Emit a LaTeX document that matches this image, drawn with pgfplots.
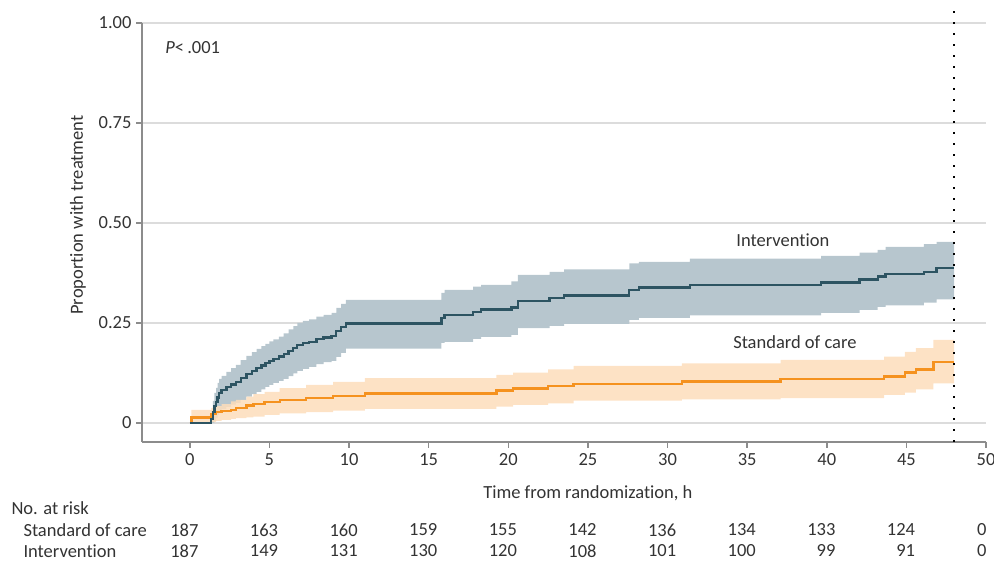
\documentclass[border=0pt]{standalone}
\usepackage{pgfplots}
\pgfplotsset{compat=1.18}
\usepackage{pgfplotstable}
\usepgfplotslibrary{fillbetween}
\usepackage{fontspec}
\setmainfont{Carlito}[Ligatures=NoCommon]

\definecolor{intline}{HTML}{2D5462}
\definecolor{intband}{HTML}{B7C6CE}
\definecolor{socline}{HTML}{F5921F}
\definecolor{socband}{HTML}{FDDDBB}
\definecolor{txt}{HTML}{333333}
\definecolor{gridc}{HTML}{DCDCDC}
\definecolor{axisc}{HTML}{8C8C8C}

\newcommand{\fs}{\fontsize{18.5}{22}\selectfont}

% time (h), cumulative proportion, lower and upper 95% limits
\pgfplotstableread{
t     y      lo     hi
0     0      0      0
1.35  0.010  0.000  0.030
1.45  0.027  0.000  0.055
1.55  0.043  0.005  0.075
1.65  0.053  0.012  0.088
1.75  0.064  0.020  0.100
1.85  0.075  0.028  0.110
2.0   0.083  0.035  0.118
2.3   0.090  0.040  0.128
2.6   0.096  0.046  0.137
2.9   0.102  0.050  0.145
3.2   0.112  0.058  0.157
3.55  0.123  0.066  0.168
3.9   0.130  0.072  0.177
4.2   0.137  0.078  0.185
4.5   0.144  0.084  0.192
4.75  0.150  0.090  0.198
5.0   0.155  0.095  0.204
5.25  0.160  0.100  0.209
5.6   0.166  0.105  0.216
5.9   0.172  0.110  0.224
6.2   0.180  0.117  0.234
6.5   0.188  0.124  0.242
6.75  0.195  0.130  0.250
7.1   0.200  0.135  0.255
7.5   0.203  0.140  0.259
7.95  0.210  0.147  0.266
8.4   0.214  0.152  0.270
8.9   0.218  0.155  0.275
9.2   0.230  0.165  0.288
9.5   0.240  0.175  0.298
9.8   0.249  0.186  0.3075
15.8  0.262  0.200  0.325
16.0  0.270  0.203  0.333
17.8  0.278  0.210  0.341
18.3  0.284  0.215  0.345
20.2  0.289  0.220  0.354
20.6  0.305  0.237  0.370
22.6  0.312  0.243  0.378
23.5  0.319  0.248  0.384
27.6  0.332  0.258  0.399
28.2  0.339  0.263  0.403
31.4  0.345  0.269  0.411
39.65 0.351  0.275  0.418
42.06 0.359  0.283  0.426
43.2  0.366  0.290  0.433
43.7  0.372  0.294  0.440
46.1  0.378  0.301  0.447
46.9  0.387  0.309  0.453
48    0.387  0.309  0.453
}\intervention

\pgfplotstableread{
t     y      lo     hi
0     0      0      0
0.1   0.014  0.000  0.033
1.35  0.022  0.002  0.038
1.65  0.027  0.005  0.042
2.0   0.030  0.008  0.047
2.6   0.033  0.010  0.054
2.9   0.037  0.012  0.058
3.56  0.044  0.014  0.066
4.0   0.048  0.016  0.072
4.7   0.053  0.020  0.078
5.65  0.058  0.024  0.087
7.3   0.063  0.027  0.095
9.0   0.068  0.031  0.103
11.0  0.074  0.035  0.112
19.25 0.081  0.041  0.120
20.3  0.086  0.045  0.126
22.5  0.092  0.049  0.134
24.1  0.098  0.056  0.1425
30.9  0.104  0.059  0.149
37.1  0.110  0.062  0.1575
43.6  0.116  0.070  0.166
44.9  0.126  0.076  0.178
45.6  0.134  0.084  0.187
46.7  0.153  0.099  0.2075
48    0.153  0.099  0.2075
}\standardcare

\begin{document}
\begin{tikzpicture}[font=\fs, x=1pt, y=1pt]
\begin{axis}[
  at={(142pt,120pt)}, anchor=south west,
  scale only axis, width=844pt, height=419pt,
  xmin=-3, xmax=50, ymin=-0.0475, ymax=1,
  axis lines*=left,
  axis line style={axisc, line width=1.5pt},
  tick style={axisc, line width=1.5pt},
  tick align=outside, major tick length=6pt,
  xtick={0,5,...,50}, ytick={0,0.25,0.5,0.75,1},
  yticklabels={0,0.25,0.50,0.75,1.00},
  /pgf/number format/assume math mode=true,
  tick label style={font=\fs, text=txt},
  xticklabel style={yshift=-2pt},
  yticklabel style={xshift=-1pt},
  ymajorgrids, grid style={gridc, line width=2.5pt},
  clip=false,
  font=\fs,
]
  % confidence bands
  \addplot[name path=iu, const plot, draw=none, forget plot] table[x=t, y=hi] {\intervention};
  \addplot[name path=il, const plot, draw=none, forget plot] table[x=t, y=lo] {\intervention};
  \addplot[intband, forget plot] fill between[of=iu and il];
  \addplot[name path=su, const plot, draw=none, forget plot] table[x=t, y=hi] {\standardcare};
  \addplot[name path=sl, const plot, draw=none, forget plot] table[x=t, y=lo] {\standardcare};
  \addplot[socband, fill opacity=0.85, forget plot] fill between[of=su and sl];

  % cumulative curves
  \addplot[const plot, socline, line width=2.4pt] table[x=t, y=y] {\standardcare};
  \addplot[const plot, intline, line width=2.4pt] table[x=t, y=y] {\intervention};

  % end of follow-up at 48 h
  \addplot[black, line width=1.8pt, dash pattern=on 1.8pt off 9.2pt] coordinates {(48,-0.0475) (48,1.045)};

  % annotations
  \node[anchor=west, text=txt] at (axis cs:-1.75,0.9375) {\textit{P}<\,.001};
  \node[text=txt] at (axis cs:37.24,0.4575) {Intervention};
  \node[text=txt] at (axis cs:38.0,0.203) {Standard of care};
  \node[text=txt] at (axis cs:25,-0.175) {Time from randomization, h};
  \node[text=txt, rotate=90] at (axis cs:-7.03,0.52) {Proportion with treatment};
\end{axis}

% number at risk (x = 190 + 15.925 t, in pt)
\node[anchor=west, text=txt] at (8,54) {No. at risk};
\node[anchor=west, text=txt] at (20,32) {Standard of care};
\node[anchor=west, text=txt] at (20,11) {Intervention};
\foreach \tm/\a/\b in {0/187/187, 5/163/149, 10/160/131, 15/159/130, 20/155/120,
                       25/142/108, 30/136/101, 35/134/100, 40/133/99, 45/124/91} {
  \node[anchor=east, text=txt] at ({202+15.925*\tm},32) {\a};
  \node[anchor=east, text=txt] at ({202+15.925*\tm},11) {\b};
}
\node[anchor=east, text=txt] at (990,32) {0};
\node[anchor=east, text=txt] at (990,11) {0};

\pgfresetboundingbox
\path[use as bounding box] (0,0) rectangle (994pt,562pt);
\end{tikzpicture}
\end{document}
